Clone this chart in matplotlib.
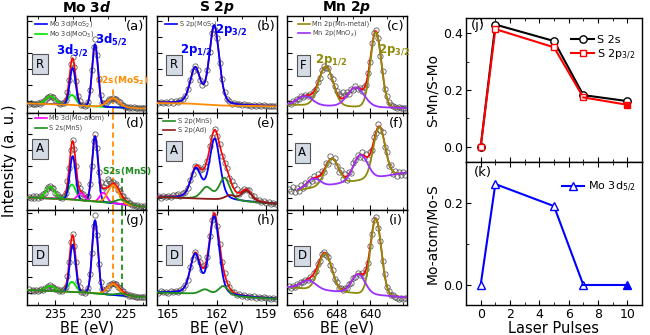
import numpy as np
import matplotlib.pyplot as plt
from matplotlib.ticker import MultipleLocator

plt.rcParams['font.family'] = ['DejaVu Sans']
plt.rcParams['mathtext.fontset'] = 'dejavusans'

# colours
BLUE = '#0000ff'
RED = '#ff0000'
LGREEN = '#00e000'
ORANGE = '#ff8c00'
MAGENTA = '#ff00ff'
DGREEN = '#1e8c1e'
MAROON = '#8b1a1a'
OLIVE = '#8f8a0a'
VIOLET = '#9b30ff'
CIRCLE = '#505050'

# ---------------- XPS data (intensity in arbitrary units) ----------------
# first / last binding energy of the measured points
MO_BE = (238.75, 222.25)
S_BE = (165.6, 158.4)
MN_BE = (659.5, 631.5)

# measured points
MO_R = [9.0, 9.8, 8.9, 9.5, 9.1, 10.0, 9.2, 10.6, 11.0, 13.2, 15.0, 16.5, 17.2, 16.0, 15.6, 12.8, 11.0,
        10.3, 9.0, 9.8, 9.7, 13.0, 21.5, 33.5, 49.5, 56.0, 46.0, 32.5, 17.0, 11.6, 8.0, 7.9, 7.0, 8.4,
        11.2, 23.0, 43.0, 66.0, 74.5, 58.0, 34.0, 18.0, 10.0, 9.8, 10.0, 12.3, 13.6, 14.2, 15.3, 14.0,
        13.9, 11.6, 10.8, 8.5, 7.9, 6.4, 6.3, 5.4, 5.9, 5.0, 5.6, 4.9, 5.3, 4.6, 5.2, 4.8, 5.1]
MO_A = [13.3, 11.8, 13.6, 12.1, 13.7, 11.9, 13.8, 13.0, 16.3, 16.8, 21.2, 23.5, 24.2, 21.7, 21.9, 16.9,
        16.5, 12.6, 13.4, 11.7, 14.4, 16.8, 28.7, 42.2, 60.1, 70.5, 61.5, 44.0, 26.5, 22.0, 17.0, 16.5,
        12.5, 13.2, 14.0, 26.5, 44.0, 69.0, 76.5, 62.0, 38.5, 28.0, 20.5, 23.0, 27.0, 31.0, 29.5, 27.0,
        28.5, 25.5, 25.8, 20.5, 19.5, 14.2, 13.9, 10.0, 9.6, 7.0, 6.8, 5.0, 5.5, 4.0, 4.6, 3.5, 4.1,
        3.2, 3.6]
MO_D = [15.6, 14.3, 15.5, 14.2, 15.2, 14.0, 15.4, 15.8, 15.0, 17.4, 17.1, 19.3, 19.6, 18.2, 18.3, 16.0,
        15.9, 14.1, 14.6, 13.7, 15.6, 18.1, 28.6, 43.0, 63.0, 71.0, 59.5, 43.0, 24.0, 17.8, 13.2, 13.5,
        12.2, 14.1, 17.0, 31.5, 52.0, 79.5, 90.0, 70.5, 41.0, 22.8, 16.5, 13.8, 15.9, 16.8, 20.0, 21.5,
        22.3, 20.8, 21.0, 18.0, 17.3, 14.4, 13.8, 11.2, 11.1, 9.5, 9.7, 8.6, 9.0, 8.0, 8.5, 7.8, 8.3,
        7.6, 8.0]
S_R = [10.2, 11.0, 10.0, 11.2, 10.1, 11.6, 10.5, 12.0, 11.0, 13.2, 14.5, 17.5, 24.0, 33.0, 42.0, 47.5,
       43.0, 33.5, 28.0, 30.5, 43.5, 61.0, 80.5, 83.0, 75.5, 50.0, 34.5, 21.5, 14.0, 12.0, 9.5, 10.2,
       8.6, 9.4, 8.0, 8.9, 7.6, 8.4, 7.3, 8.1, 7.2, 7.9, 7.0, 7.8, 6.9, 7.5, 6.8, 7.4, 6.9]
S_A = [14.5, 12.4, 14.0, 12.6, 14.3, 12.7, 15.5, 14.6, 16.5, 14.0, 17.0, 18.5, 22.0, 30.5, 36.5, 44.5,
       43.0, 40.5, 41.5, 44.0, 49.0, 64.0, 73.0, 81.5, 74.0, 66.5, 54.5, 47.0, 42.0, 32.0, 29.5, 25.0,
       21.0, 16.0, 19.5, 20.8, 19.8, 20.5, 15.0, 13.8, 10.0, 10.4, 8.0, 9.0, 7.0, 8.2, 6.5, 7.5, 6.2]
S_D = [12.4, 13.6, 12.6, 13.5, 12.5, 13.7, 12.8, 14.2, 13.2, 15.3, 17.0, 20.5, 25.5, 38.0, 46.0, 53.5,
       48.0, 43.0, 35.5, 40.5, 48.0, 69.0, 85.0, 93.0, 79.0, 61.5, 43.0, 32.5, 22.0, 18.5, 13.2, 12.8,
       10.3, 10.8, 9.2, 9.9, 8.5, 9.2, 8.0, 8.7, 7.4, 8.3, 7.0, 7.8, 6.6, 7.4, 6.3, 7.0, 6.2]
MN_F = [9.8, 9.0, 12.0, 11.2, 14.5, 13.8, 17.0, 16.0, 18.5, 16.8, 19.5, 18.0, 22.5, 24.0, 31.5, 35.0,
        43.0, 47.5, 45.0, 45.5, 37.0, 34.0, 27.0, 22.5, 19.0, 17.5, 21.0, 18.0, 21.5, 19.5, 24.5, 23.0,
        27.0, 24.0, 25.5, 22.5, 26.0, 28.0, 40.0, 51.0, 70.0, 80.5, 83.0, 75.5, 57.0, 42.5, 24.5, 17.0,
        11.5, 8.5, 7.0, 6.5, 4.6, 5.8, 4.7, 5.5, 4.9]
MN_A = [21.0, 19.0, 23.5, 18.5, 22.0, 19.5, 25.5, 22.0, 27.5, 26.0, 31.0, 29.0, 34.5, 30.5, 36.0, 33.0,
        39.0, 38.0, 47.5, 46.0, 54.0, 49.5, 52.0, 44.0, 38.0, 40.0, 31.0, 36.0, 30.5, 38.5, 37.0, 47.0,
        50.0, 55.5, 53.0, 58.5, 52.5, 56.0, 51.0, 58.0, 60.5, 73.0, 77.0, 85.5, 80.0, 78.5, 63.5, 58.0,
        44.5, 45.0, 36.0, 39.5, 34.0, 38.5, 35.0, 38.0, 35.5]
MN_D = [18.8, 17.4, 19.3, 18.2, 20.8, 20.0, 23.0, 22.6, 25.5, 24.8, 28.0, 27.3, 32.5, 34.0, 41.5, 44.5,
        51.5, 53.0, 50.5, 48.5, 40.0, 35.0, 26.0, 23.0, 17.2, 17.0, 14.6, 17.0, 16.8, 21.0, 22.5, 27.5,
        28.5, 32.0, 30.2, 31.8, 30.5, 36.0, 42.5, 59.0, 71.5, 85.0, 88.0, 77.0, 64.5, 44.0, 31.5, 18.5,
        14.5, 9.8, 10.0, 8.0, 7.0, 6.2, 7.0, 6.0, 6.8]

# backgrounds (BE, intensity)
MO_R_BG = [(239, 9.5), (233.5, 8.5), (230.5, 7.0), (227.5, 6.0), (222, 4.5)]
MO_A_BG = [(239, 12.5), (233.4, 10.9), (227.2, 7.3), (222, 3.0)]
MO_D_BG = [(239, 15.0), (231, 12.7), (226.7, 10.0), (222, 7.7)]
S_R_BG = [(165.7, 10.0), (163.8, 9.5), (161.8, 7.5), (158.3, 6.7)]
S_A_BG = [(165.7, 13.0), (162.2, 10.7), (160.2, 8.2), (158.3, 6.0)]
S_D_BG = [(165.7, 12.5), (163.8, 11.5), (161.8, 9.5), (158.3, 6.0)]
MN_F_BG = [(660, 8.5), (631, 5.0)]
MN_A_BG = [(660, 18.1), (631, 37.7)]
MN_D_BG = [(660, 18.0), (631, 7.5)]

# fitted components (centre, height, width)
MO_R_MOS2 = [(232.5, 37, 0.42), (229.3, 62, 0.42)]
MO_R_MOO3 = [(235.7, 8, 0.65), (232.6, 10, 0.55)]
MO_R_S2S = [(226.7, 9, 0.85)]
MO_A_MOS2 = [(232.5, 43.5, 0.42), (229.3, 65, 0.42)]
MO_A_MOO3 = [(235.7, 11.5, 0.65), (232.6, 15, 0.55)]
MO_A_ATOM = [(231.3, 7, 0.5), (228.1, 9.5, 0.5)]
MO_A_S2S = [(226.7, 18, 0.75)]
MO_A_MNS = [(225.5, 4.5, 0.8)]
MO_D_MOS2 = [(232.5, 47, 0.42), (229.3, 73, 0.42)]
MO_D_MOO3 = [(235.7, 5, 0.65), (232.6, 10, 0.55)]
MO_D_S2S = [(226.7, 11, 0.8)]
MO_D_MNS = [(225.5, 2, 0.8)]
S_R_MOS2 = [(163.35, 35, 0.306), (162.18, 79, 0.306)]
S_A_MOS2 = [(163.3, 29, 0.323), (162.15, 60, 0.323)]
S_A_MNS = [(162.65, 11.5, 0.323), (161.55, 22, 0.323)]
S_A_AD = [(161.2, 5, 0.323), (160.2, 11, 0.323)]
S_D_MOS2 = [(163.35, 38.5, 0.306), (162.18, 78, 0.306)]
S_D_MNS = [(162.75, 5, 0.306), (161.62, 9.5, 0.306)]
MN_F_METAL = [(650.6, 39, 1.7), (638.6, 75, 1.3)]
MN_F_OX = [(655.6, 9, 1.8), (643.4, 19, 2.0)]
MN_A_METAL = [(649.2, 26, 1.6), (637.8, 50, 1.4)]
MN_A_OX = [(653.6, 9, 1.6), (642.3, 25, 1.7)]
MN_D_METAL = [(650.8, 37, 1.6), (638.6, 76, 1.3)]
MN_D_OX = [(654.8, 8.5, 1.8), (642.8, 19, 1.6)]

# ---------------- ratio data ----------------
PULSES = [0, 1, 5, 7, 10]
S2S_RATIO = [0.0, 0.43, 0.372, 0.182, 0.161]
S2P_RATIO = [0.0, 0.414, 0.35, 0.174, 0.148]
MO_ATOM_RATIO = [0.0, 0.247, 0.193, 0.0, 0.0]

fig = plt.figure(figsize=(6.5, 3.35), dpi=100)


def px_axes(l, t, r, b):
    return fig.add_axes([l / 650, 1 - b / 335, (r - l) / 650, (b - t) / 335])


def peak(x, c, h, s, mix):
    g = np.exp(-(x - c) ** 2 / (2 * s ** 2))
    lor = 1 / (1 + ((x - c) / (1.1774 * s)) ** 2)
    return h * ((1 - mix) * g + mix * lor)


def spectrum(ax, be_win, points, bg_pts, comps, mix, fit_from=None):
    lo, hi = ax.get_xlim()
    x = np.linspace(lo if fit_from is None else fit_from, hi, 700)
    bg = np.interp(x, [p[0] for p in bg_pts][::-1], [p[1] for p in bg_pts][::-1])
    total = bg.copy()
    curves = []
    for color, peaks in comps:
        y = np.zeros_like(x)
        for c, h, s in peaks:
            y = y + peak(x, c, h, s, mix)
        curves.append((color, bg + y))
        total = total + y
    xs = np.linspace(be_win[0], be_win[1], len(points))
    ax.plot(xs, points, 'o', ms=3.8, mfc='none', mec=CIRCLE, mew=0.55, zorder=2)
    ax.plot(x, total, color=RED, lw=1.2, zorder=3)
    for color, y in curves:
        ax.plot(x, y, color=color, lw=1.3, zorder=4)


def legend_rows(ax, x0, y0, dy, items):
    for i, (label, color) in enumerate(items):
        y = y0 - i * dy
        ax.plot([x0, x0 + 0.1], [y, y], color=color, lw=1.2, transform=ax.transAxes)
        ax.text(x0 + 0.12, y, label, fontsize=4.8, color='#444444', va='center',
                transform=ax.transAxes)


def tag(ax, letter, box, bx, by):
    ax.text(0.91, 0.89, letter, fontsize=9.5, ha='center', va='center', transform=ax.transAxes)
    ax.text(bx, by, box, fontsize=8.5, ha='center', va='center', transform=ax.transAxes,
            bbox=dict(boxstyle='square,pad=0.3', fc='#d4dbe5', ec='#555555', lw=0.8))


COLS = [(27.3, 146.0), (157.3, 276.7), (286.7, 406.7)]
ROWS = [(16, 113), (113, 210), (210, 305)]
XLIMS = [(239, 222), (165.67, 158.35), (660, 631.2)]
MAJ = [[235, 230, 225], [165, 162, 159], [656, 648, 640]]
MIN = [2.5, 1.5, 4]

axes = {}
for r, (t, b) in enumerate(ROWS):
    for c, (l, rr) in enumerate(COLS):
        ax = px_axes(l, t, rr, b)
        ax.set_xlim(*XLIMS[c])
        ax.set_ylim(0, b - t)
        ax.set_xticks(MAJ[c])
        ax.xaxis.set_minor_locator(MultipleLocator(MIN[c]))
        ax.set_yticks(np.arange(12, b - t, 16))
        ax.tick_params(which='both', direction='in', top=True, labelleft=False,
                       labelbottom=(r == 2), labelsize=8.5, pad=2)
        ax.tick_params(which='major', length=3.5, width=0.8)
        ax.tick_params(which='minor', length=2, width=0.6)
        for sp in ax.spines.values():
            sp.set_linewidth(1.0)
        if r == 2:
            ax.set_xlabel('BE (eV)', fontsize=10.5, labelpad=0)
        axes[(r, c)] = ax

# Mo 3d column
ax = axes[(0, 0)]
spectrum(ax, MO_BE, MO_R, MO_R_BG, [(LGREEN, MO_R_MOO3), (BLUE, MO_R_MOS2), (ORANGE, MO_R_S2S)], 0)
legend_rows(ax, 0.067, 0.918, 0.105, [('Mo 3d(MoS$_2$)', BLUE), ('Mo 3d(MoO$_3$)', LGREEN)])
ax.text(0.377, 0.65, r'$\mathbf{3d}_{\mathbf{3/2}}$', color=BLUE, fontsize=8.5, ha='center',
        va='center', transform=ax.transAxes)
ax.text(0.705, 0.763, r'$\mathbf{3d}_{\mathbf{5/2}}$', color=BLUE, fontsize=8.5, ha='center',
        va='center', transform=ax.transAxes)
ax.text(0.80, 0.33, r'$\mathbf{S2s(MoS_2)}$', color=ORANGE, fontsize=6.5, ha='center',
        va='center', transform=ax.transAxes)
ax.plot([MO_R_S2S[0][0]] * 2, [0, 25], ls=(0, (3, 2)), color=ORANGE, lw=1.3, zorder=1)
tag(ax, '(a)', 'R', 0.107, 0.505)

ax = axes[(1, 0)]
spectrum(ax, MO_BE, MO_A, MO_A_BG, [(LGREEN, MO_A_MOO3), (BLUE, MO_A_MOS2), (MAGENTA, MO_A_ATOM),
                                    (ORANGE, MO_A_S2S), (DGREEN, MO_A_MNS)], 0)
legend_rows(ax, 0.067, 0.95, 0.107, [('Mo 3d(Mo-atom)', MAGENTA), ('S 2s(MnS)', DGREEN)])
ax.text(0.84, 0.40, r'$\mathbf{S2s(MnS)}$', color=DGREEN, fontsize=6.5, ha='center',
        va='center', transform=ax.transAxes)
ax.plot([MO_A_S2S[0][0]] * 2, [0, 97], ls=(0, (3, 2)), color=ORANGE, lw=1.3, zorder=1)
ax.plot([MO_A_MNS[0][0]] * 2, [0, 31.7], ls=(0, (3, 2)), color=DGREEN, lw=1.3, zorder=1)
tag(ax, '(d)', 'A', 0.107, 0.63)

ax = axes[(2, 0)]
spectrum(ax, MO_BE, MO_D, MO_D_BG, [(LGREEN, MO_D_MOO3), (BLUE, MO_D_MOS2), (ORANGE, MO_D_S2S),
                                    (DGREEN, MO_D_MNS)], 0)
ax.plot([MO_D_S2S[0][0]] * 2, [18, 95], ls=(0, (3, 2)), color=ORANGE, lw=1.3, zorder=1)
ax.plot([MO_D_MNS[0][0]] * 2, [16.7, 95], ls=(0, (3, 2)), color=DGREEN, lw=1.3, zorder=1)
tag(ax, '(g)', 'D', 0.11, 0.526)

# S 2p column
ax = axes[(0, 1)]
spectrum(ax, S_BE, S_R, S_R_BG, [(BLUE, S_R_MOS2), (ORANGE, [])], 0.3)
legend_rows(ax, 0.064, 0.918, 0.1, [('S 2p(MoS$_2$)', BLUE)])
ax.text(0.324, 0.65, r'$\mathbf{2p}_{\mathbf{1/2}}$', color=BLUE, fontsize=8.5, ha='center',
        va='center', transform=ax.transAxes)
ax.text(0.617, 0.856, r'$\mathbf{2p}_{\mathbf{3/2}}$', color=BLUE, fontsize=8.5, ha='center',
        va='center', transform=ax.transAxes)
tag(ax, '(b)', 'R', 0.14, 0.495)

ax = axes[(1, 1)]
spectrum(ax, S_BE, S_A, S_A_BG, [(BLUE, S_A_MOS2), (DGREEN, S_A_MNS), (MAROON, S_A_AD)], 0.3)
legend_rows(ax, 0.05, 0.918, 0.095, [('S 2p(MnS)', DGREEN), ('S 2p(Ad)', MAROON)])
tag(ax, '(e)', 'A', 0.14, 0.61)

ax = axes[(2, 1)]
spectrum(ax, S_BE, S_D, S_D_BG, [(BLUE, S_D_MOS2), (DGREEN, S_D_MNS)], 0.3)
tag(ax, '(h)', 'D', 0.14, 0.526)

# Mn 2p column
ax = axes[(0, 2)]
spectrum(ax, MN_BE, MN_F, MN_F_BG, [(OLIVE, MN_F_METAL), (VIOLET, MN_F_OX)], 0)
legend_rows(ax, 0.094, 0.918, 0.09, [('Mn 2p(Mn-metal)', OLIVE), ('Mn 2p(MnO$_x$)', VIOLET)])
ax.text(0.37, 0.546, r'$\mathbf{2p}_{\mathbf{1/2}}$', color=OLIVE, fontsize=8.5, ha='center',
        va='center', transform=ax.transAxes)
ax.text(0.894, 0.65, r'$\mathbf{2p}_{\mathbf{3/2}}$', color=OLIVE, fontsize=8.5, ha='center',
        va='center', transform=ax.transAxes)
tag(ax, '(c)', 'F', 0.14, 0.49)

ax = axes[(1, 2)]
spectrum(ax, MN_BE, MN_A, MN_A_BG, [(OLIVE, MN_A_METAL), (VIOLET, MN_A_OX)], 0, fit_from=657.3)
tag(ax, '(f)', 'A', 0.13, 0.59)

ax = axes[(2, 2)]
spectrum(ax, MN_BE, MN_D, MN_D_BG, [(OLIVE, MN_D_METAL), (VIOLET, MN_D_OX)], 0)
tag(ax, '(i)', 'D', 0.13, 0.52)

# column titles and common label
for (l, rr), title in zip(COLS, [r'$\mathbf{Mo\ 3}\mathbfit{d}$', r'$\mathbf{S\ 2}\mathbfit{p}$',
                                 r'$\mathbf{Mn\ 2}\mathbfit{p}$']):
    fig.text((l + rr) / 2 / 650, 1 - 8 / 335, title, fontsize=10, ha='center', va='center')
fig.text(10 / 650, 1 - 161 / 335, 'Intensity (a. u.)', rotation=90, fontsize=10.5,
         ha='center', va='center')

# ---------------- ratio panels ----------------
axj = px_axes(466, 18, 642, 162)
axk = px_axes(466, 162, 642, 305)

axj.plot(PULSES, S2S_RATIO, '-o', color='black', lw=1.5, ms=5.3, mfc='white', mew=1.0,
         label='S 2s', zorder=3)
axj.plot(PULSES[:-1], S2P_RATIO[:-1], '-s', color=RED, lw=1.5, ms=4.8, mfc='white', mew=1.0,
         label='S 2p$_{3/2}$', zorder=4)
axj.plot(PULSES[-2:], S2P_RATIO[-2:], '-', color=RED, lw=1.5, zorder=4)
axj.plot(PULSES[-1], S2P_RATIO[-1], 's', color=RED, ms=4.8, zorder=5)
axj.set_ylim(-0.053, 0.453)
axj.set_yticks([0.0, 0.2, 0.4])
axj.set_ylabel('S-Mn/S-Mo', fontsize=10)
axj.legend(loc='upper right', bbox_to_anchor=(1.0, 0.93), fontsize=8, frameon=False,
           handlelength=2.0, handletextpad=0.3, labelspacing=0.25, borderaxespad=0.2)
axj.text(0.065, 0.95, '(j)', fontsize=9.5, ha='center', va='center', transform=axj.transAxes)

axk.plot(PULSES[:-1], MO_ATOM_RATIO[:-1], '-^', color=BLUE, lw=1.5, ms=6, mfc='white', mew=1.0,
         label='Mo 3d$_{5/2}$', zorder=3)
axk.plot(PULSES[-2:], MO_ATOM_RATIO[-2:], '-', color=BLUE, lw=1.5, zorder=3)
axk.plot(PULSES[-1], MO_ATOM_RATIO[-1], '^', color=BLUE, ms=6, zorder=4)
axk.set_ylim(-0.049, 0.301)
axk.set_yticks([0.0, 0.2])
axk.set_ylabel('Mo-atom/Mo-S', fontsize=10)
axk.set_xlabel('Laser Pulses', fontsize=10.5, labelpad=0)
axk.legend(loc='upper right', bbox_to_anchor=(1.0, 0.92), fontsize=8, frameon=False,
           handlelength=2.0, handletextpad=0.3, borderaxespad=0.2)
axk.text(0.097, 0.925, '(k)', fontsize=9.5, ha='center', va='center', transform=axk.transAxes)

for a in (axj, axk):
    a.set_xlim(-1, 11)
    a.set_xticks([0, 2, 4, 6, 8, 10])
    a.xaxis.set_minor_locator(MultipleLocator(1))
    a.yaxis.set_minor_locator(MultipleLocator(0.1))
    a.tick_params(which='both', direction='in', top=True, labelsize=9, pad=2)
    a.tick_params(which='major', length=3.5, width=0.8)
    a.tick_params(which='minor', length=2, width=0.6)
    a.yaxis.set_label_coords(-0.15, 0.5)
    for sp in a.spines.values():
        sp.set_linewidth(1.0)
axj.tick_params(labelbottom=False)

fig.savefig('out.png', dpi=100)
